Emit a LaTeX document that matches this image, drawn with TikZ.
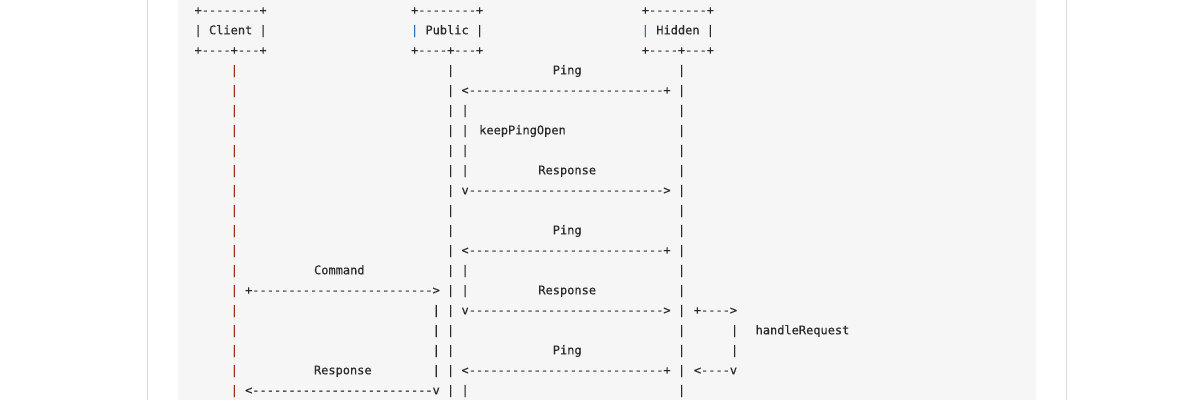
\documentclass[tikz,border=0pt]{standalone}
\usepackage{fontspec}
\setmonofont[FakeBold=0.35]{DejaVu Sans Mono}
\definecolor{ink}{HTML}{2B2B2B}
\definecolor{lifered}{HTML}{9A2E1E}
\definecolor{hdrblue}{HTML}{2F6FB3}
\definecolor{panel}{HTML}{F6F6F6}
\definecolor{rule}{HTML}{DADADA}
\tikzset{
  asc/.style={inner sep=0pt, outer sep=0pt, anchor=base west, text=ink,
    font=\ttfamily\fontsize{11.98pt}{20pt}\selectfont},
  word/.style={asc, anchor=base},
}
% element at a column of the grid: \A[colour]{col}{row}{text}
\newcommand\A[4][ink]{\node[asc,text=#1] (a-#3-#2) at ({194.6+7.214*(#2)},{-(14.3+20*(#3))}) {#4};}
% free word centred at x: \W{x}{row}{text}
\newcommand\W[3]{\node[word] (w-#2) at (#1,{-(14.3+20*(#2))}) {#3};}
\begin{document}
\begin{tikzpicture}[x=1pt,y=1pt]
\useasboundingbox (0,0) rectangle (1200,-400);
\fill[white] (0,0) rectangle (1200,-400);
\fill[panel] (178,0) rectangle (1036,-400);
\draw[rule, line width=1pt] (147.3,0) -- (147.3,-400);
\draw[rule, line width=1pt] (1066.3,0) -- (1066.3,-400);
% boxes
\A{0}{0}{+--------+}\A{30}{0}{+--------+}\A{62}{0}{+--------+}
\A{0}{1}{|}\A{2}{1}{Client}\A{9}{1}{|}
\A[hdrblue]{30}{1}{|}\A{32}{1}{Public}\A{39}{1}{|}
\A[hdrblue]{62}{1}{|}\A{64}{1}{Hidden}\A{71}{1}{|}
\A{0}{2}{+----+---+}\A{30}{2}{+----+---+}\A{62}{2}{+----+---+}
% lifelines
\foreach \r in {3,...,19}{\A[lifered]{5}{\r}{|}\A{35}{\r}{|}\A{67}{\r}{|}}
\foreach \r in {5,6,7,8,13,14,19}{\A{37}{\r}{|}}
\foreach \r in {15,16,17,18}{\A{33}{\r}{|}}
\foreach \r in {16,17}{\A{74.35}{\r}{|}}
% arrows
\A{37}{4}{<---------------------------+}
\A{37}{9}{v--------------------------->}
\A{37}{12}{<---------------------------+}
\A{7}{14}{+------------------------->}
\A{37}{15}{v--------------------------->}
\A{69.2}{15}{+---->}
\A{37}{18}{<---------------------------+}
\A{69.2}{18}{<----v}
\A{7}{19}{<-------------------------v}
% labels
\W{567.2}{3}{Ping}
\W{522.5}{6}{keepPingOpen}
\W{567.2}{8}{Response}
\W{567.2}{11}{Ping}
\W{339.3}{13}{Command}
\W{567.2}{14}{Response}
\W{802.5}{16}{handleRequest}
\W{567.2}{17}{Ping}
\W{342.8}{18}{Response}
\end{tikzpicture}
\end{document}
